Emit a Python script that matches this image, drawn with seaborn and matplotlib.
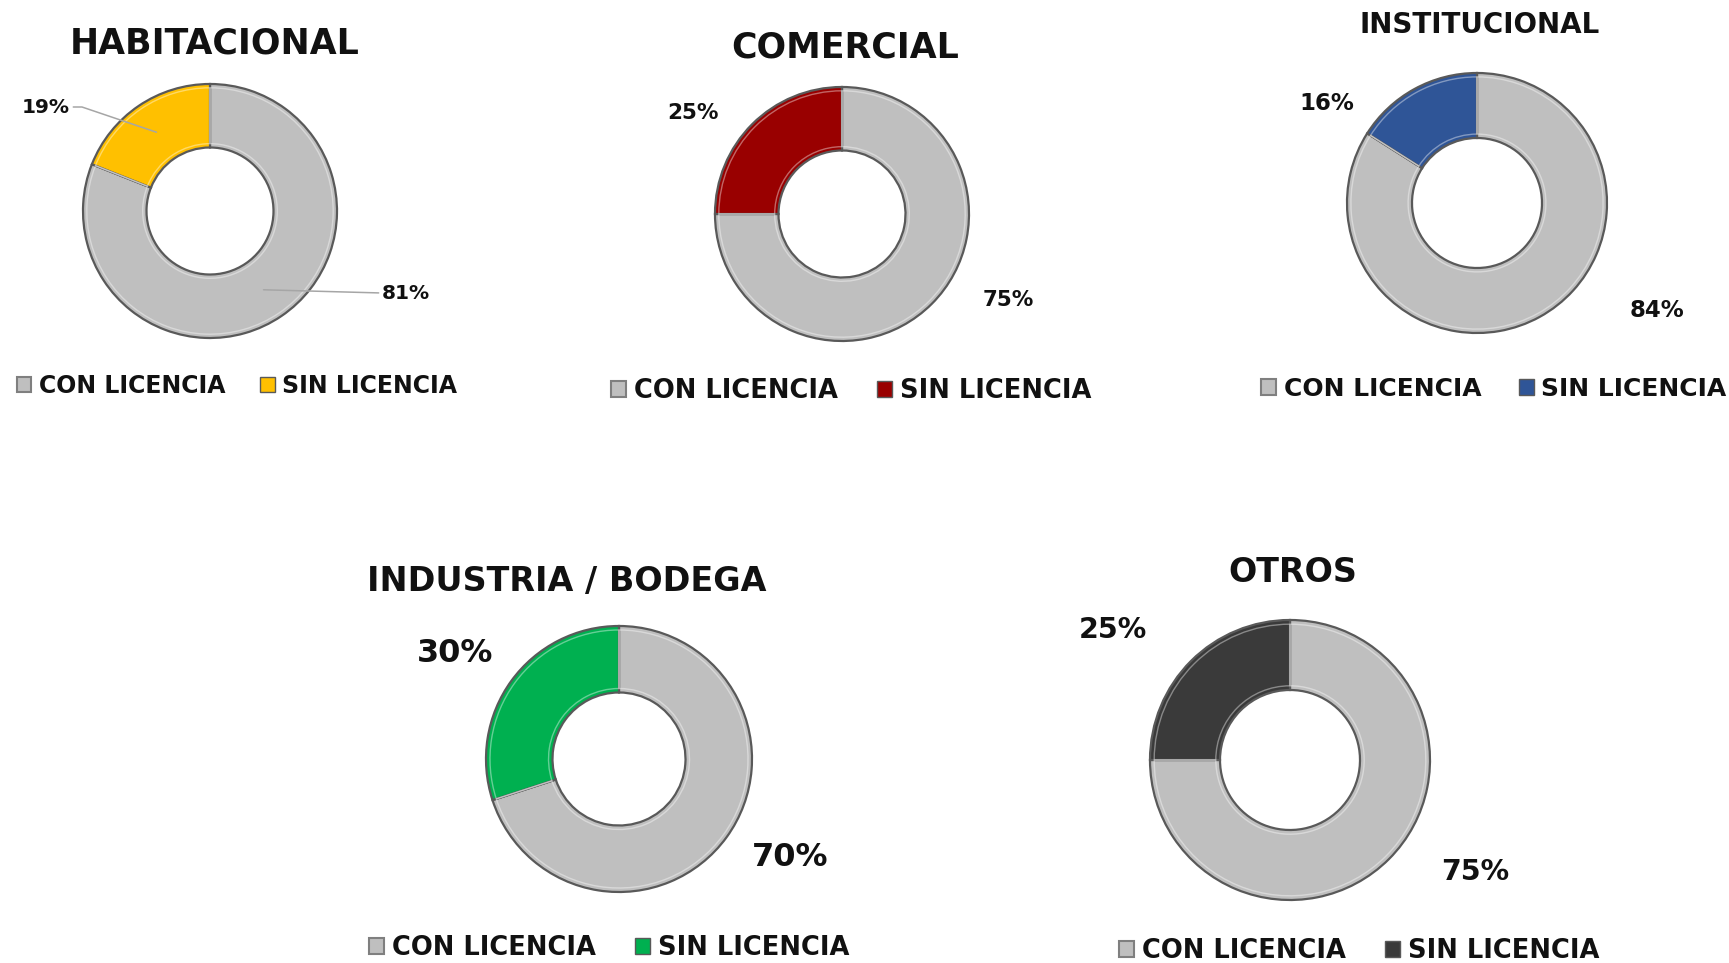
import numpy as np
import matplotlib
matplotlib.use('Agg')
import matplotlib.pyplot as plt
from matplotlib.patches import Patch
import seaborn as sns

sns.set_theme(style='white')
plt.rcParams['font.family'] = ['DejaVu Sans']

# data
titles = ['HABITACIONAL', 'COMERCIAL', 'INSTITUCIONAL', 'INDUSTRIA / BODEGA', 'OTROS']
con_licencia = [81, 75, 84, 70, 75]
sin_licencia = [19, 25, 16, 30, 25]
legend_labels = ['CON LICENCIA', 'SIN LICENCIA']
con_color = '#BFBFBF'
sin_colors = ['#FFC000', '#990000', '#2F5597', '#00B050', '#3A3A3A']

# layout (pixels, origin top-left)
W, H = 1729, 963
centers = [(210, 211), (842, 214), (1477, 203), (619, 759), (1290, 760)]
radii = [127, 127, 130, 133, 140]
title_pos = [(215, 43), (845, 47), (1480, 25), (567, 582), (1293, 572)]
title_sizes = [25, 25, 20, 24, 24]
legend_pos = [(237, 386), (851, 391), (1494, 389), (609, 948), (1359, 951)]
legend_sizes = [17, 18.5, 18, 18.5, 18.5]
con_lbl_pos = [(406, 293), (1008, 300), (1657, 310), (790, 857), (1475, 872)]
sin_lbl_pos = [(46, 107), (693, 113), (1327, 103), (455, 653), (1113, 630)]
pct_sizes = [14.5, 15.5, 16.5, 23, 20.5]
leaders = [True, False, False, False, False]
hole = 0.5
k = 1.3

fig = plt.figure(figsize=(W / 100, H / 100), dpi=100)
fig.patch.set_facecolor('white')

for i in range(len(titles)):
    cx, cy = centers[i]
    r = radii[i]
    side = 2 * r * k
    ax = fig.add_axes([(cx - side / 2) / W, 1 - (cy + side / 2) / H, side / W, side / H])
    vals = [con_licencia[i], sin_licencia[i]]
    cols = [con_color, sin_colors[i]]
    ax.pie(vals, colors=cols, startangle=90, counterclock=False, radius=1,
           wedgeprops=dict(width=1 - hole, edgecolor='#595959', linewidth=1.6))
    # soft highlight ring to mimic the bevel
    ax.pie(vals, colors=['none', 'none'], startangle=90, counterclock=False, radius=0.97,
           wedgeprops=dict(width=1 - hole - 0.06, edgecolor='white', linewidth=1.0, alpha=0.4))
    ax.set_xlim(-k, k)
    ax.set_ylim(-k, k)
    ax.set_aspect('equal')
    ax.axis('off')

    # percentage labels
    start = 90.0
    c_mid = np.deg2rad(start - con_licencia[i] / 100 * 360 / 2)
    s_mid = np.deg2rad(start + sin_licencia[i] / 100 * 360 / 2)
    for val, pos, mid, rel, conn in [
            (con_licencia[i], con_lbl_pos[i], c_mid, (0, 0.5), 'arc3,rad=0'),
            (sin_licencia[i], sin_lbl_pos[i], s_mid, (1, 0.5),
             'arc,angleA=0,armA=12,angleB=0,armB=0,rad=0')]:
        tx = (pos[0] - cx) / r
        ty = -(pos[1] - cy) / r
        if leaders[i]:
            ax.annotate(f'{val}%', xy=(0.75 * np.cos(mid), 0.75 * np.sin(mid)), xytext=(tx, ty),
                        ha='center', va='center', fontsize=pct_sizes[i], fontweight='bold',
                        color='#111111',
                        arrowprops=dict(arrowstyle='-', color='#A6A6A6', lw=1.1,
                                        relpos=rel, shrinkA=0, shrinkB=0,
                                        connectionstyle=conn))
        else:
            ax.text(tx, ty, f'{val}%', ha='center', va='center', fontsize=pct_sizes[i],
                    fontweight='bold', color='#111111')

    # title
    fig.text(title_pos[i][0] / W, 1 - title_pos[i][1] / H, titles[i], ha='center', va='center',
             fontsize=title_sizes[i], fontweight='bold', color='#111111')

    # legend
    handles = [Patch(facecolor=con_color, edgecolor='#7F7F7F', linewidth=1.5),
               Patch(facecolor=sin_colors[i], edgecolor='#595959', linewidth=1.0)]
    fig.legend(handles, legend_labels, loc='center',
               bbox_to_anchor=(legend_pos[i][0] / W, 1 - legend_pos[i][1] / H),
               bbox_transform=fig.transFigure, ncol=2, frameon=False,
               handlelength=0.6, handleheight=0.6, handletextpad=0.3, columnspacing=1.5,
               prop=dict(size=legend_sizes[i], weight='bold'), labelcolor='#111111')

fig.savefig('out.png', dpi=100, facecolor='white')
